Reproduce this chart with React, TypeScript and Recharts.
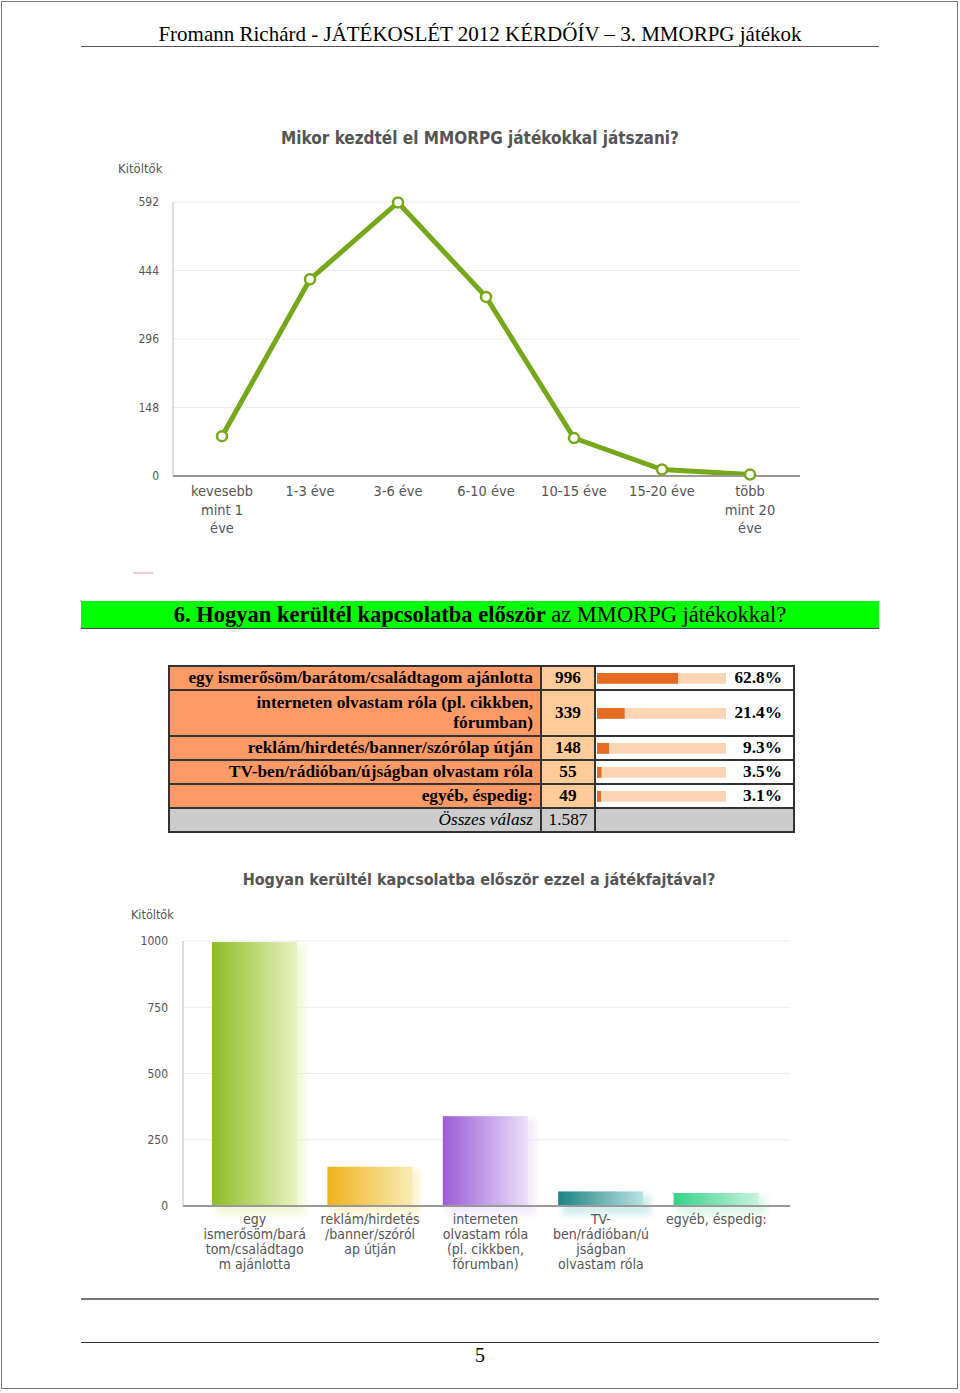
import React from 'react';
import {
  LineChart,
  Line,
  BarChart,
  Bar,
  XAxis,
  YAxis,
  CartesianGrid,
  Cell,
} from 'recharts';

// first chart: when did you start playing
const startCategories = [
  'kevesebb\nmint 1\néve',
  '1-3 éve',
  '3-6 éve',
  '6-10 éve',
  '10-15 éve',
  '15-20 éve',
  'több\nmint 20\néve',
];
const startValues = [86, 425, 591, 387, 82, 14, 3];
const startTicks = [0, 148, 296, 444, 592];

// table + second chart: first contact
const contactLabels = [
  'egy ismerősöm/barátom/családtagom ajánlotta',
  'interneten olvastam róla (pl. cikkben,\nfórumban)',
  'reklám/hirdetés/banner/szórólap útján',
  'TV-ben/rádióban/újságban olvastam róla',
  'egyéb, éspedig:',
];
const contactCounts = [996, 339, 148, 55, 49];
const contactPercents = [62.8, 21.4, 9.3, 3.5, 3.1];
const contactTotal = '1.587';

// bar chart order differs from the table
const barCategories = [
  'egy\nismerősöm/bará\ntom/családtago\nm ajánlotta',
  'reklám/hirdetés\n/banner/szóról\nap útján',
  'interneten\nolvastam róla\n(pl. cikkben,\nfórumban)',
  'TV-\nben/rádióban/ú\njságban\nolvastam róla',
  'egyéb, éspedig:',
];
const barValues = [996, 148, 339, 55, 49];
const barTicks = [0, 250, 500, 750, 1000];
const barColors = [
  ['#8cbd22', '#e9f2c2'],
  ['#efb21e', '#f9ecb4'],
  ['#9b5cd9', '#ecdff8'],
  ['#1d8383', '#b8e2e2'],
  ['#34d38a', '#c8f3dd'],
];

const chartFont = "'DejaVu Sans Condensed', 'DejaVu Sans', sans-serif";
const serif = "'Liberation Serif', 'Times New Roman', serif";
const textGray = '#555';

const startData = startCategories.map((c, i) => ({ name: c, value: startValues[i] }));
const barData = barCategories.map((c, i) => ({ name: c, value: barValues[i] }));

function MultiTick(props: any) {
  const { x, y, payload, lineHeight, fontSize, first } = props;
  const lines = String(payload.value).split('\n');
  return (
    <text x={x} y={y} textAnchor="middle" fill={textGray} fontSize={fontSize} fontFamily={chartFont}>
      {lines.map((l, i) => (
        <tspan key={i} x={x} dy={i === 0 ? first : lineHeight}>
          {l}
        </tspan>
      ))}
    </text>
  );
}

function GlowBar(props: any) {
  const { x, y, width, height, index } = props;
  if (!height) return null;
  return (
    <g>
      <rect x={x + 4} y={y + 3} width={width + 4} height={height + 6} fill={barColors[index][1]} opacity={0.6} filter="url(#barBlur)" />
      <rect x={x} y={y} width={width} height={height} fill={`url(#barGrad${index})`} />
    </g>
  );
}

function MiniBar({ pct }: { pct: number }) {
  return (
    <BarChart width={129} height={12} data={[{ v: pct }]} layout="vertical" margin={{ top: 0, right: 0, bottom: 0, left: 0 }}>
      <XAxis type="number" domain={[0, 100]} hide />
      <YAxis type="category" hide />
      <Bar dataKey="v" fill="#e46c23" background={{ fill: '#fcd5b5' }} barSize={12} isAnimationActive={false} />
    </BarChart>
  );
}

const cellBorder = '2px solid #333';

export default function App() {
  return (
    <div style={{ position: 'absolute', left: 0, top: 0, width: 960, height: 1393, background: '#fff', overflow: 'hidden' }}>
      {/* page frame */}
      <div style={{ position: 'absolute', left: 1, top: 1, width: 957, height: 1388, border: '1px solid #777', boxSizing: 'border-box' }} />

      {/* header */}
      <div style={{ position: 'absolute', left: 81, top: 22, width: 798, textAlign: 'center', fontFamily: serif, fontSize: 21, color: '#000' }}>
        Fromann Richárd - JÁTÉKOSLÉT 2012 KÉRDŐÍV – 3. MMORPG játékok
      </div>
      <div style={{ position: 'absolute', left: 81, top: 46, width: 798, height: 1, background: '#555' }} />

      {/* line chart */}
      <div style={{ position: 'absolute', left: 100, top: 128, width: 760, textAlign: 'center', fontFamily: chartFont, fontWeight: 'bold', fontSize: 17, color: textGray }}>
        Mikor kezdtél el MMORPG játékokkal játszani?
      </div>
      <div style={{ position: 'absolute', left: 118, top: 161, fontFamily: chartFont, fontSize: 13, color: textGray }}>
        Kitöltők
      </div>
      <div style={{ position: 'absolute', left: 100, top: 120 }}>
        <LineChart width={720} height={440} data={startData} margin={{ top: 82, right: 20, left: 0, bottom: 24 }}>
          <CartesianGrid vertical={false} stroke="#ececec" />
          <XAxis
            dataKey="name"
            interval={0}
            padding={{ left: 49, right: 50 }}
            axisLine={{ stroke: '#999', strokeWidth: 2 }}
            tickLine={false}
            height={60}
            tick={<MultiTick lineHeight={18.5} fontSize={14.5} first={12} />}
          />
          <YAxis
            domain={[0, 592]}
            ticks={startTicks}
            width={73}
            axisLine={{ stroke: '#bbb' }}
            tickLine={false}
            tickSize={0}
            tickMargin={14}
            tick={{ fill: textGray, fontSize: 12, fontFamily: chartFont }}
          />
          <Line
            type="linear"
            dataKey="value"
            stroke="#77a81b"
            strokeWidth={5}
            dot={{ r: 5, fill: '#fff', stroke: '#77a81b', strokeWidth: 2.5 }}
            isAnimationActive={false}
          />
        </LineChart>
      </div>
      <div style={{ position: 'absolute', left: 133, top: 572, width: 20, height: 2, background: '#f3caca' }} />

      {/* question bar */}
      <div style={{ position: 'absolute', left: 81, top: 601, width: 798, height: 28, background: '#00ff00', borderBottom: '1px solid #444', boxSizing: 'border-box', textAlign: 'center', fontFamily: serif, fontSize: 22.5, lineHeight: '27px', color: '#000', whiteSpace: 'nowrap' }}>
        <b>6. Hogyan kerültél kapcsolatba először</b> az MMORPG játékokkal?
      </div>

      {/* answer table */}
      <table style={{ position: 'absolute', left: 168, top: 665, width: 625, tableLayout: 'fixed', borderCollapse: 'collapse', fontFamily: serif, fontSize: 17.3, border: cellBorder }}>
        <colgroup>
          <col style={{ width: 372 }} />
          <col style={{ width: 54 }} />
          <col style={{ width: 199 }} />
        </colgroup>
        <tbody>
          {contactLabels.map((label, i) => (
            <tr key={i} style={{ height: i === 1 ? 46 : 24 }}>
              <td style={{ background: '#ff9966', border: cellBorder, textAlign: 'right', fontWeight: 'bold', padding: '0 7px', lineHeight: '20px', whiteSpace: 'pre-line' }}>
                {label}
              </td>
              <td style={{ background: '#ffcc99', border: cellBorder, textAlign: 'center', fontWeight: 'bold', padding: 0 }}>
                {contactCounts[i]}
              </td>
              <td style={{ border: cellBorder, padding: '0 0 0 1px', background: '#fff' }}>
                <div style={{ display: 'flex', alignItems: 'center', justifyContent: 'space-between' }}>
                  <MiniBar pct={contactPercents[i]} />
                  <span style={{ fontWeight: 'bold', paddingRight: 11 }}>{contactPercents[i]}%</span>
                </div>
              </td>
            </tr>
          ))}
          <tr style={{ height: 24 }}>
            <td style={{ background: '#cccccc', border: cellBorder, textAlign: 'right', fontStyle: 'italic', padding: '0 7px' }}>Összes válasz</td>
            <td style={{ background: '#cccccc', border: cellBorder, textAlign: 'center', padding: 0 }}>{contactTotal}</td>
            <td style={{ background: '#cccccc', border: cellBorder }} />
          </tr>
        </tbody>
      </table>

      {/* bar chart */}
      <div style={{ position: 'absolute', left: 100, top: 870, width: 758, textAlign: 'center', fontFamily: chartFont, fontWeight: 'bold', fontSize: 16, color: textGray }}>
        Hogyan kerültél kapcsolatba először ezzel a játékfajtával?
      </div>
      <div style={{ position: 'absolute', left: 131, top: 907, fontFamily: chartFont, fontSize: 12.5, color: textGray }}>
        Kitöltők
      </div>
      <div style={{ position: 'absolute', left: 100, top: 860 }}>
        <BarChart width={720} height={420} data={barData} margin={{ top: 81, right: 30, left: 0, bottom: 0 }}>
          <defs>
            {barColors.map((c, i) => (
              <linearGradient key={i} id={`barGrad${i}`} x1="0" y1="0" x2="1" y2="0">
                <stop offset="0%" stopColor={c[0]} />
                <stop offset="100%" stopColor={c[1]} />
              </linearGradient>
            ))}
            <filter id="barBlur" x="-20%" y="-20%" width="140%" height="140%">
              <feGaussianBlur stdDeviation="3" />
            </filter>
          </defs>
          <CartesianGrid vertical={false} stroke="#ececec" />
          <XAxis
            dataKey="name"
            interval={0}
            padding={{ left: 14, right: 16 }}
            axisLine={{ stroke: '#999', strokeWidth: 2 }}
            tickLine={false}
            height={74}
            tick={<MultiTick lineHeight={15} fontSize={14} first={10} />}
          />
          <YAxis
            domain={[0, 1000]}
            ticks={barTicks}
            width={83}
            axisLine={{ stroke: '#bbb' }}
            tickLine={false}
            tickSize={0}
            tickMargin={15}
            tick={{ fill: textGray, fontSize: 12, fontFamily: chartFont }}
          />
          <Bar dataKey="value" barSize={85} shape={<GlowBar />} isAnimationActive={false}>
            {barData.map((_, i) => (
              <Cell key={i} fill={`url(#barGrad${i})`} />
            ))}
          </Bar>
        </BarChart>
      </div>

      {/* footer */}
      <div style={{ position: 'absolute', left: 81, top: 1298, width: 798, height: 2, background: '#777' }} />
      <div style={{ position: 'absolute', left: 81, top: 1342, width: 798, height: 1, background: '#333' }} />
      <div style={{ position: 'absolute', left: 81, top: 1344, width: 798, textAlign: 'center', fontFamily: serif, fontSize: 20 }}>5</div>
    </div>
  );
}
